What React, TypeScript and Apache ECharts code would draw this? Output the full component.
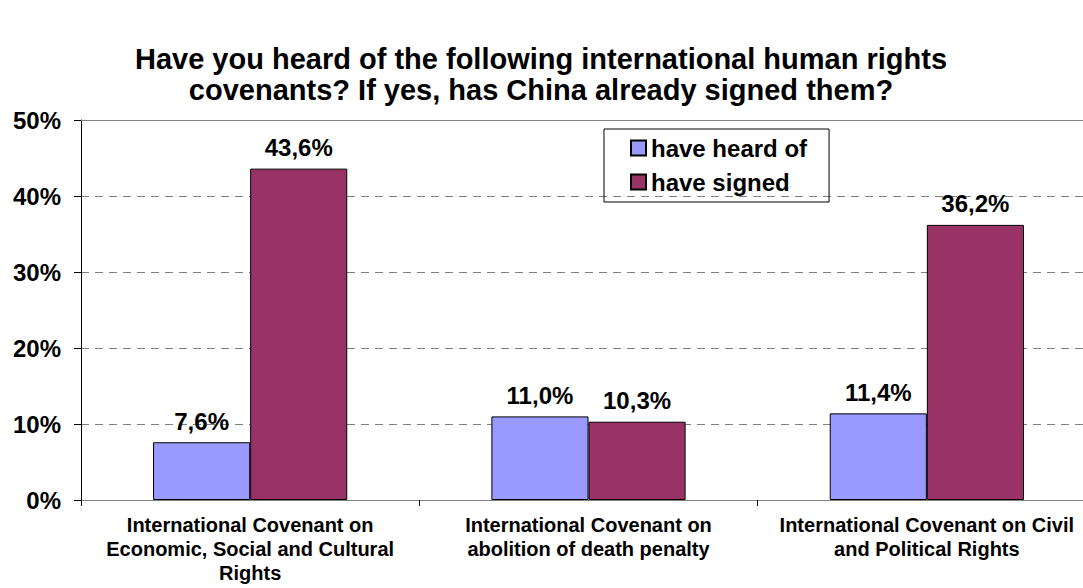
import React, { useEffect, useRef } from "react";
import * as echarts from "echarts";

const categories = [
  "International Covenant on\nEconomic, Social and Cultural\nRights",
  "International Covenant on\nabolition of death penalty",
  "International Covenant on Civil\nand Political Rights",
];
const heardOf = [7.6, 11.0, 11.4];
const signed = [43.6, 10.3, 36.2];
const seriesNames = ["have heard of", "have signed"];
const titleLines = [
  "Have you heard of the following international human rights",
  "covenants? If yes, has China already signed them?",
];

const FONT = "Arial, 'Liberation Sans', Helvetica, sans-serif";

export default function App() {
  const ref = useRef<HTMLDivElement>(null);
  useEffect(() => {
    if (!ref.current) return;
    const chart = echarts.init(ref.current, null, { renderer: "svg" });
    const fmt = (p: any) => p.value.toFixed(1).replace(".", ",") + "%";
    const labelStyle = {
      show: true,
      position: "top" as const,
      distance: 9,
      formatter: fmt,
      fontFamily: FONT,
      fontWeight: "bold" as const,
      fontSize: 24,
      color: "#000",
    };
    chart.setOption({
      animation: false,
      backgroundColor: "#fff",
      title: {
        text: titleLines.join("\n"),
        left: 536,
        textAlign: "center",
        top: 38,
        textStyle: {
          fontFamily: FONT,
          fontWeight: "bold",
          fontSize: 29,
          lineHeight: 31,
          color: "#000",
        },
      },
      legend: {
        orient: "vertical",
        left: 604,
        top: 129,
        data: seriesNames,
        borderColor: "#000",
        borderWidth: 1,
        padding: [7, 22, 8, 26],
        itemGap: 10,
        itemWidth: 15,
        itemHeight: 15,
        icon: "rect",
        textStyle: {
          fontFamily: FONT,
          fontWeight: "bold",
          fontSize: 24,
          color: "#000",
        },
      },
      grid: { left: 81, top: 120, width: 1015, height: 380, containLabel: false },
      xAxis: [
        {
          type: "category",
          data: categories,
          axisLine: { lineStyle: { color: "#808080", width: 1 } },
          axisTick: { show: true, length: 6, lineStyle: { color: "#000" } },
          axisLabel: {
            interval: 0,
            margin: 13,
            fontFamily: FONT,
            fontWeight: "bold",
            fontSize: 20,
            lineHeight: 24,
            color: "#000",
            align: "center",
          },
        },
        {
          type: "category",
          data: categories,
          position: "top",
          axisLine: { show: true, lineStyle: { color: "#808080", width: 1 } },
          axisTick: { show: false },
          axisLabel: { show: false },
        },
      ],
      yAxis: {
        type: "value",
        min: 0,
        max: 50,
        interval: 10,
        axisLine: { show: true, lineStyle: { color: "#000" } },
        axisTick: { show: true, length: 7, lineStyle: { color: "#000" } },
        axisLabel: {
          formatter: "{value}%",
          margin: 20,
          fontFamily: FONT,
          fontWeight: "bold",
          fontSize: 24,
          color: "#000",
        },
        splitLine: {
          show: true,
          lineStyle: { color: "#808080", type: [8, 6], width: 1 },
        },
      },
      series: [
        {
          name: seriesNames[0],
          type: "bar",
          data: heardOf,
          barGap: "0%",
          barCategoryGap: "42.6%",
          itemStyle: { color: "#9999ff", borderColor: "#000", borderWidth: 1 },
          label: labelStyle,
        },
        {
          name: seriesNames[1],
          type: "bar",
          data: signed,
          barGap: "0%",
          barCategoryGap: "42.6%",
          itemStyle: { color: "#993366", borderColor: "#000", borderWidth: 1 },
          label: labelStyle,
        },
      ],
    });
    return () => chart.dispose();
  }, []);
  return (
    <div
      style={{
        position: "fixed",
        left: 0,
        top: 0,
        width: 1083,
        height: 588,
        overflow: "hidden",
        background: "#fff",
      }}
    >
      <div ref={ref} style={{ width: 1100, height: 588 }} />
    </div>
  );
}
